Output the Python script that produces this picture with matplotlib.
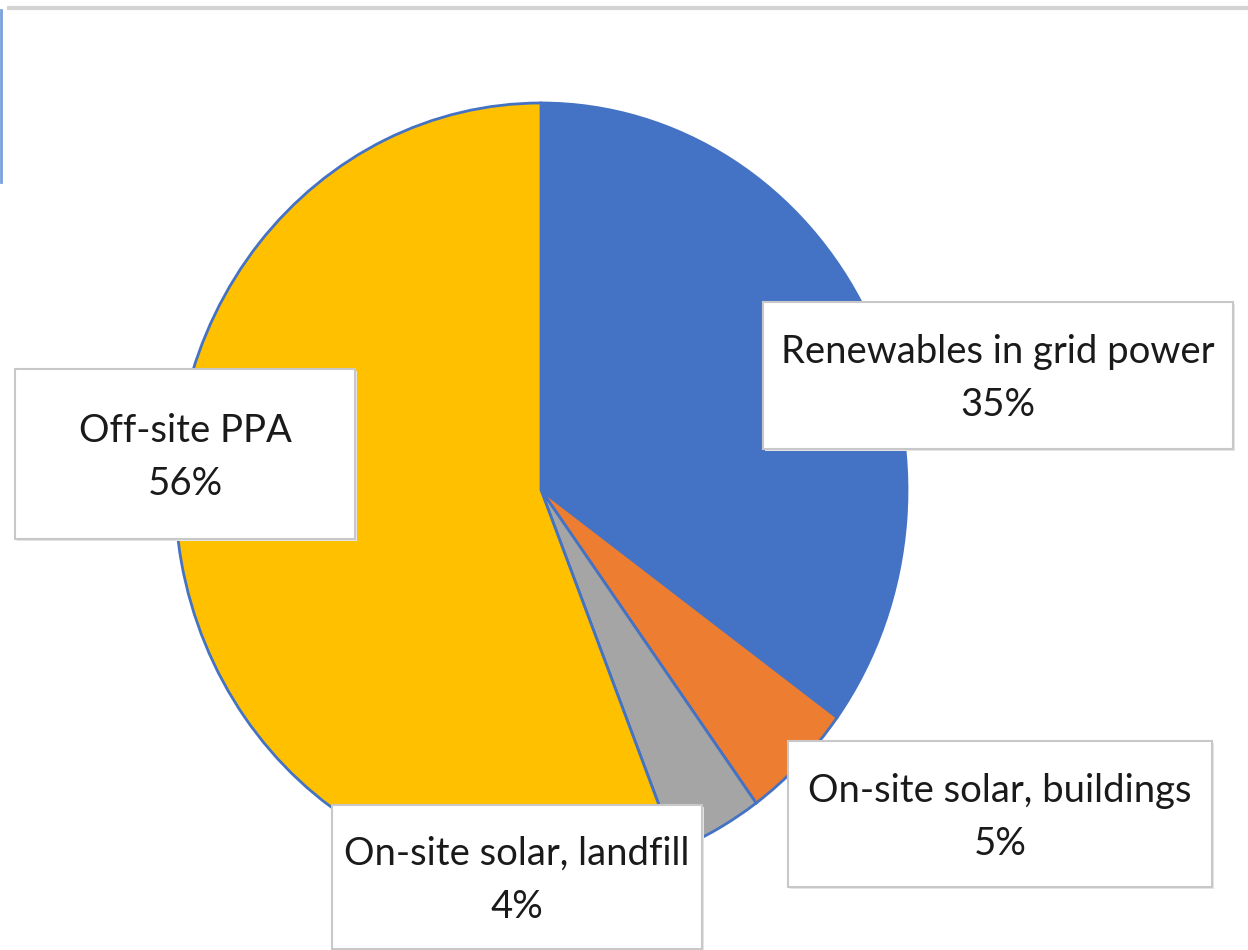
import matplotlib
matplotlib.use("Agg")
import matplotlib.pyplot as plt
from matplotlib.patches import Rectangle

# Данные диаграммы
labels = ["Renewables in grid power", "On-site solar, buildings",
          "On-site solar, landfill", "Off-site PPA"]
shares = [35, 5, 4, 56]
colors = ["#4472C4", "#ED7D31", "#A5A5A5", "#FFC000"]

# Положение подписей (центр рамки в пикселях, ширина, высота)
boxes = [(998, 375, 470, 147),
         (1000, 814, 424, 146),
         (517, 877, 370, 144),
         (185, 454, 340, 170)]

W, H = 1248, 950
fig = plt.figure(figsize=(W / 100, H / 100), dpi=100)
fig.patch.set_facecolor("white")

# Круговая диаграмма (слегка вытянута по вертикали, как в оригинале)
cx, cy, rx, ry = 541, 490, 366, 387
ax = fig.add_axes([(cx - rx) / W, (H - cy - ry) / H, 2 * rx / W, 2 * ry / H])
wedges, _ = ax.pie(shares, colors=colors, startangle=90, counterclock=False,
                   wedgeprops=dict(edgecolor="#4472C4", linewidth=2.0))
ax.set_aspect("auto")
ax.set_xlim(-1, 1)
ax.set_ylim(-1, 1)
ax.axis("off")
for w in wedges:
    w.set_clip_on(False)

# Слой для рамок подписей в пиксельных координатах
ov = fig.add_axes([0, 0, 1, 1])
ov.set_xlim(0, W)
ov.set_ylim(H, 0)
ov.axis("off")

# Декоративные линии по краям
ov.plot([7, W], [8, 8], color="#d4d4d4", lw=3, solid_capstyle="butt")
ov.plot([1, 1], [10, 182], color="#7aa0e0", lw=2)

for (bx, by, bw, bh), name, val in zip(boxes, labels, shares):
    ov.add_patch(Rectangle((bx - bw / 2 + 2, by - bh / 2 + 2), bw, bh,
                           facecolor="#e6e6e6", edgecolor="none", zorder=3))
    ov.add_patch(Rectangle((bx - bw / 2, by - bh / 2), bw, bh,
                           facecolor="white", edgecolor="#c8c8c8", lw=1.5, zorder=4))
    ov.text(bx, by - 23, name, ha="center", va="center", fontsize=27.5,
            family="Lato", color="#1a1a1a", zorder=5)
    ov.text(bx, by + 30, f"{val}%", ha="center", va="center", fontsize=27.5,
            family="Lato", color="#1a1a1a", zorder=5)

fig.savefig("out.png", dpi=100)
